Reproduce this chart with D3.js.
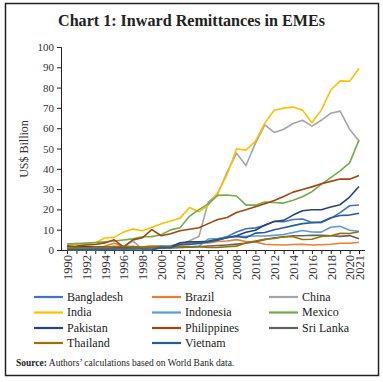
<!DOCTYPE html>
<html>
<head>
<meta charset="utf-8">
<script src="https://cdn.jsdelivr.net/npm/d3@7"></script>
<style>
    body { margin: 0; background: #fff; }
    svg { display: block; font-family: "Liberation Serif", "Times New Roman", serif; }
</style>
</head>
<body>
<div id="chart"></div>
<script>
// Inward remittances in EMEs, US$ billion, 1990-2021
const years = d3.range(1990, 2022);
const tickYears = [1990, 1992, 1994, 1996, 1998, 2000, 2002, 2004, 2006, 2008, 2010, 2012, 2014, 2016, 2018, 2020, 2021];
const yTicks = [0, 10, 20, 30, 40, 50, 60, 70, 80, 90, 100];

const countries = ['Bangladesh', 'Brazil', 'China', 'India', 'Indonesia', 'Mexico', 'Pakistan', 'Philippines', 'Sri Lanka', 'Thailand', 'Vietnam'];
const colors = ['#4472C4', '#ED7D31', '#A5A5A5', '#FFC000', '#5B9BD5', '#70AD47', '#264478', '#9E480E', '#636363', '#997300', '#255E91'];

const bangladesh = [0.8, 0.8, 0.9, 1.0, 1.2, 1.2, 1.3, 1.5, 1.6, 1.8, 2.0, 2.1, 2.9, 3.2, 3.6, 4.3, 5.4, 6.6, 8.9, 10.5, 10.9, 12.1, 14.1, 13.9, 15.0, 15.3, 13.6, 13.5, 15.6, 18.4, 21.8, 22.2];
const brazil = [0.6, 1.1, 1.7, 1.1, 1.8, 3.3, 1.9, 1.3, 1.5, 1.9, 1.6, 1.8, 2.4, 2.8, 3.6, 3.5, 4.2, 4.4, 5.1, 4.2, 4.0, 2.8, 2.6, 2.5, 2.7, 2.8, 2.5, 2.6, 2.8, 3.3, 3.3, 3.8];
const china = [0.2, 0.3, 0.2, 0.1, 0.4, 0.4, 1.7, 4.4, 0.4, 0.5, 0.8, 0.8, 2.4, 4.6, 6.6, 23.6, 27.6, 38.4, 47.7, 41.6, 52.5, 61.6, 57.9, 59.5, 62.3, 63.9, 61.0, 63.9, 67.4, 68.4, 59.5, 53.7];
const india = [2.4, 3.3, 2.9, 3.5, 5.9, 6.2, 8.8, 10.3, 9.5, 11.1, 12.9, 14.3, 15.7, 20.9, 18.8, 22.1, 28.3, 37.2, 49.9, 49.2, 53.5, 62.5, 68.8, 69.9, 70.4, 68.9, 62.7, 68.9, 78.8, 83.3, 83.1, 89.4];
const indonesia = [0.2, 0.1, 0.3, 0.3, 0.4, 0.7, 0.8, 0.7, 1.0, 1.1, 1.2, 1.0, 1.3, 1.5, 1.9, 5.4, 5.7, 6.2, 6.6, 6.8, 6.9, 6.9, 7.2, 7.6, 8.6, 9.6, 8.9, 8.8, 11.2, 11.7, 9.7, 9.2];
const mexico = [3.1, 3.0, 3.4, 3.7, 4.1, 4.4, 4.9, 5.5, 6.5, 6.6, 7.5, 9.9, 11.0, 16.6, 19.9, 22.7, 26.9, 27.1, 26.6, 22.1, 22.1, 23.6, 23.4, 23.1, 24.5, 26.2, 28.7, 32.3, 35.7, 39.0, 42.9, 54.1];
const pakistan = [2.0, 1.5, 1.6, 1.4, 1.4, 1.7, 1.1, 1.7, 1.0, 1.1, 1.1, 1.5, 3.6, 4.0, 4.0, 4.3, 5.1, 6.0, 7.0, 8.7, 9.7, 12.3, 14.0, 14.6, 17.2, 19.3, 19.8, 19.8, 21.2, 22.3, 26.1, 31.3];
const philippines = [1.8, 2.0, 2.5, 2.7, 3.5, 5.0, 1.5, 5.0, 6.0, 10.0, 7.0, 8.0, 9.5, 10.2, 11.0, 13.0, 15.0, 16.0, 18.5, 19.8, 21.3, 22.8, 24.4, 26.4, 28.5, 29.8, 31.1, 32.6, 33.8, 35.0, 34.9, 36.7];
const sriLanka = [0.4, 0.4, 0.5, 0.6, 0.7, 0.8, 0.8, 0.9, 1.0, 1.1, 1.2, 1.2, 1.3, 1.4, 1.6, 2.0, 2.2, 2.5, 2.9, 3.3, 4.1, 5.1, 6.0, 6.4, 7.0, 7.0, 7.3, 7.2, 7.0, 6.7, 7.1, 5.5];
const thailand = [1.0, 1.0, 1.1, 1.1, 1.3, 1.7, 1.8, 1.7, 1.4, 1.5, 1.7, 1.3, 1.4, 1.6, 1.6, 1.2, 1.3, 1.6, 1.9, 3.6, 4.4, 5.3, 5.7, 6.6, 6.5, 5.2, 5.3, 6.7, 7.0, 8.2, 8.1, 9.0];
const vietnam = [0.0, 0.0, 0.0, 0.0, 0.0, 0.0, 0.0, 0.0, 0.0, 0.0, 1.3, 1.1, 2.7, 2.7, 3.2, 4.0, 4.8, 6.2, 6.8, 6.0, 8.3, 8.6, 10.0, 11.0, 12.0, 13.0, 13.4, 13.8, 15.9, 17.0, 17.2, 18.1];

const seriesValues = [bangladesh, brazil, china, india, indonesia, mexico, pakistan, philippines, sriLanka, thailand, vietnam];

const series = countries.map((name, i) => ({
    name: name,
    color: colors[i],
    values: seriesValues[i].map((v, j) => ({ year: years[j], value: v }))
}));

const W = 383, H = 382;
const svg = d3.select('#chart')
    .append('svg')
    .attr('width', W)
    .attr('height', H);

// Outer frame
svg.append('rect')
    .attr('x', 5.5)
    .attr('y', 3.5)
    .attr('width', 373)
    .attr('height', 372)
    .attr('fill', 'none')
    .attr('stroke', '#222')
    .attr('stroke-width', 1.5);

// Title
svg.append('text')
    .attr('x', 191.5)
    .attr('y', 26)
    .attr('text-anchor', 'middle')
    .attr('font-size', '16px')
    .attr('font-weight', 'bold')
    .attr('fill', '#222')
    .attr('textLength', 267)
    .attr('lengthAdjust', 'spacingAndGlyphs')
    .text('Chart 1: Inward Remittances in EMEs');

// Scales
const x = d3.scaleLinear().domain([1990, 2021]).range([67, 359]);
const y = d3.scaleLinear().domain([0, 100]).range([250, 47]);

// Y axis
const yAxis = svg.append('g')
    .attr('transform', 'translate(61,0)')
    .call(d3.axisLeft(y).tickValues(yTicks).tickSize(4).tickPadding(3));
yAxis.selectAll('text')
    .attr('font-size', '11px')
    .attr('font-family', '"Liberation Serif", serif')
    .attr('fill', '#333');
yAxis.selectAll('line, path').attr('stroke', '#222');
yAxis.select('.domain').attr('d', 'M-4,47.5H0.5V250.5');

// X axis
const xAxis = svg.append('g')
    .attr('transform', 'translate(0,250)')
    .call(d3.axisBottom(x).tickValues(years).tickSize(4).tickFormat(d => tickYears.includes(d) ? d : ''));
xAxis.select('.domain').attr('d', 'M61,0.5H365');
xAxis.selectAll('line, path').attr('stroke', '#222');
xAxis.selectAll('text')
    .attr('font-size', '12.5px')
    .attr('font-family', '"Liberation Serif", serif')
    .attr('fill', '#333')
    .attr('text-anchor', 'end')
    .attr('transform', 'rotate(-90)')
    .attr('x', -5)
    .attr('y', 0)
    .attr('dy', '0.35em');

// Y axis title
svg.append('text')
    .attr('transform', 'translate(28,149) rotate(-90)')
    .attr('text-anchor', 'middle')
    .attr('font-size', '12px')
    .attr('fill', '#333')
    .text('US$ Billion');

// Lines
const line = d3.line()
    .x(d => x(d.year))
    .y(d => y(d.value));

svg.append('g')
    .selectAll('path')
    .data(series)
    .enter()
    .append('path')
    .attr('d', d => line(d.values))
    .attr('fill', 'none')
    .attr('stroke', d => d.color)
    .attr('stroke-width', 1.6)
    .attr('stroke-linejoin', 'round');

// Legend
const colX = [34, 152, 269];
const rowY = [297, 312.5, 328, 343];
const legend = svg.append('g');
const items = legend.selectAll('g')
    .data(series)
    .enter()
    .append('g')
    .attr('transform', (d, i) => `translate(${colX[i % 3]},${rowY[Math.floor(i / 3)]})`);
items.append('line')
    .attr('x1', 0)
    .attr('x2', 29)
    .attr('y1', 0)
    .attr('y2', 0)
    .attr('stroke', d => d.color)
    .attr('stroke-width', 2.2);
items.append('text')
    .attr('x', 33)
    .attr('y', 0)
    .attr('dy', '0.33em')
    .attr('font-size', '12px')
    .attr('fill', '#222')
    .text(d => d.name);

// Source note
const src = svg.append('text')
    .attr('x', 16)
    .attr('y', 366)
    .attr('font-size', '9.5px')
    .attr('fill', '#222');
src.append('tspan').attr('font-weight', 'bold').text('Source:');
src.append('tspan').text(' Authors\u2019 calculations based on World Bank data.');
</script>
</body>
</html>
